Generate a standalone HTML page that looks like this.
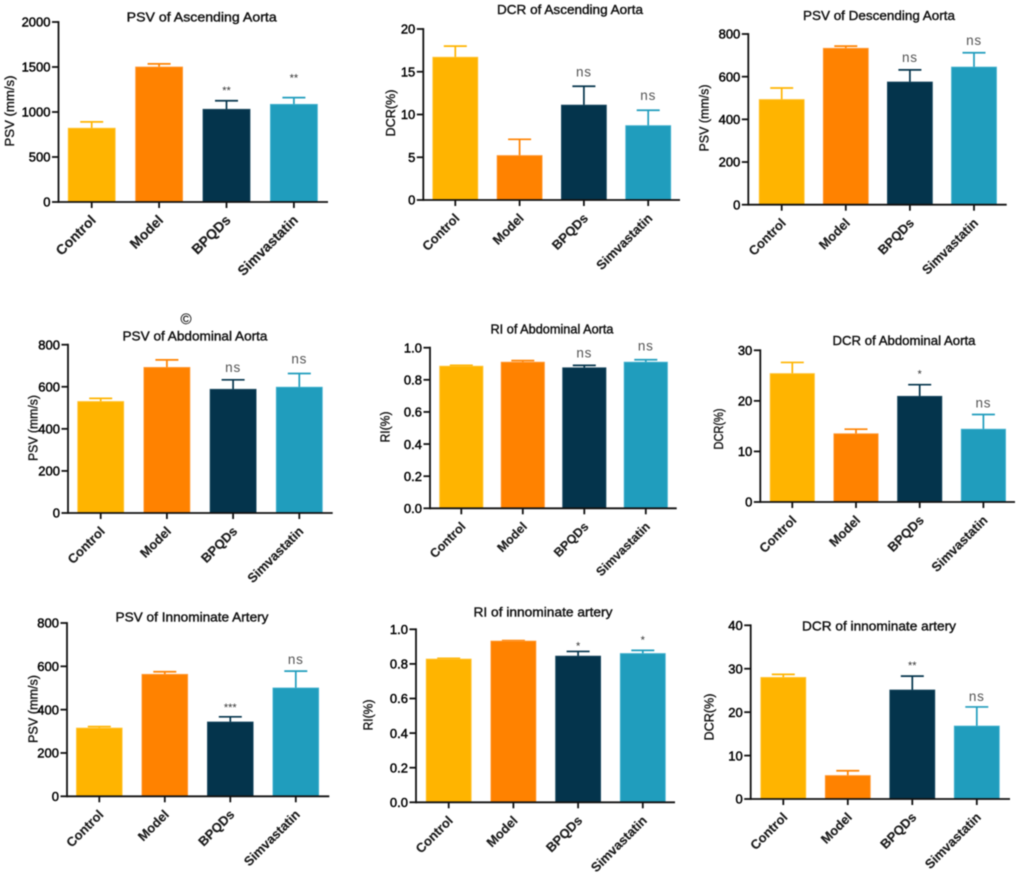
<!DOCTYPE html>
<html lang="en">
<head>
<meta charset="utf-8">
<title>Aortic flow measurements by treatment group</title>
<style>
  html, body { margin: 0; padding: 0; background: #fff; }
  #figure { display: block; width: 1020px; height: 875px; filter: blur(0.4px); font-family: "Liberation Sans", sans-serif; }
</style>
</head>
<body>
<svg id="figure" xmlns="http://www.w3.org/2000/svg" width="1020" height="875" viewBox="0 0 1020 875">
  <rect x="0" y="0" width="1020" height="875" fill="#ffffff"></rect>
  <text x="186" y="324" font-size="15" text-anchor="middle" fill="#111" stroke="#111" stroke-width="0.2">©</text>
</svg>
<script>
// Shared categories
const categories = ["Control", "Model", "BPQDs", "Simvastatin"];

// Tick labels
const ticksPsvAsc = ["0", "500", "1000", "1500", "2000"];
const ticksDcrAsc = ["0", "5", "10", "15", "20"];
const ticksPsv800 = ["0", "200", "400", "600", "800"];
const ticksRi = ["0.0", "0.2", "0.4", "0.6", "0.8", "1.0"];
const ticksDcrAbd = ["0", "10", "20", "30"];
const ticksDcrInn = ["0", "10", "20", "30", "40"];

// Series: bar means, upper error lengths, significance notes
const psvAscMeans = [820, 1500, 1030, 1085];
const psvAscErrors = [70, 35, 95, 75];
const psvAscNotes = ["", "", "**", "**"];

const dcrAscMeans = [16.7, 5.2, 11.1, 8.7];
const dcrAscErrors = [1.3, 1.9, 2.2, 1.8];
const dcrAscNotes = ["", "", "ns", "ns"];

const psvDescMeans = [493, 733, 575, 645];
const psvDescErrors = [54, 10, 57, 67];
const psvDescNotes = ["", "", "ns", "ns"];

const psvAbdMeans = [530, 692, 588, 598];
const psvAbdErrors = [15, 36, 45, 65];
const psvAbdNotes = ["", "", "ns", "ns"];

const riAbdMeans = [0.885, 0.91, 0.875, 0.91];
const riAbdErrors = [0.005, 0.01, 0.015, 0.015];
const riAbdNotes = ["", "", "ns", "ns"];

const dcrAbdMeans = [25.4, 13.5, 20.9, 14.4];
const dcrAbdErrors = [2.2, 0.9, 2.3, 2.9];
const dcrAbdNotes = ["", "", "*", "ns"];

const psvInnMeans = [315, 563, 343, 500];
const psvInnErrors = [7, 12, 24, 78];
const psvInnNotes = ["", "", "***", "ns"];

const riInnMeans = [0.828, 0.932, 0.845, 0.86];
const riInnErrors = [0.004, 0.003, 0.027, 0.018];
const riInnNotes = ["", "", "*", "*"];

const dcrInnMeans = [28, 5.4, 25.1, 16.8];
const dcrInnErrors = [0.7, 1.1, 3.2, 4.4];
const dcrInnNotes = ["", "", "**", "ns"];

// Bar fills per category
const barFills = ["#FFB400", "#FF8200", "#04344C", "#209DBD"];
const barEdges = ["#FFC53A", "#FF9B3A", "#1E4C63", "#46B3D0"];

const panels = [
  { key: "psv-ascending", title: "PSV of Ascending Aorta", yTitle: "PSV (mm/s)", ticks: ticksPsvAsc, means: psvAscMeans, errors: psvAscErrors, notes: psvAscNotes,
    box: { x: 58.5, top: 22, base: 202, right: 328, first: 91.7, step: 67.4, barW: 47, catSize: 14, titleX: 201.7, titleY: 21.5, titleW: 150, yTitleX: 14, yTitleY: 111, yTitleW: 71, gaps: [0, 0, 7, 16] } },
  { key: "dcr-ascending", title: "DCR of Ascending Aorta", yTitle: "DCR(%)", ticks: ticksDcrAsc, means: dcrAscMeans, errors: dcrAscErrors, notes: dcrAscNotes,
    box: { x: 423.3, top: 29, base: 200, right: 680, first: 455.3, step: 64.3, barW: 45, catSize: 13, titleX: 570, titleY: 14, titleW: 146, yTitleX: 395, yTitleY: 113, yTitleW: 47, gaps: [0, 0, 10, 10] } },
  { key: "psv-descending", title: "PSV of Descending Aorta", yTitle: "PSV (mm/s)", ticks: ticksPsv800, means: psvDescMeans, errors: psvDescErrors, notes: psvDescNotes,
    box: { x: 748.3, top: 34, base: 204.7, right: 1006.7, first: 781.7, step: 64.1, barW: 45, catSize: 13, titleX: 879, titleY: 20, titleW: 152, yTitleX: 708.5, yTitleY: 118, yTitleW: 67, gaps: [0, 0, 8, 8] } },
  { key: "psv-abdominal", title: "PSV of Abdominal Aorta", yTitle: "PSV (mm/s)", ticks: ticksPsv800, means: psvAbdMeans, errors: psvAbdErrors, notes: psvAbdNotes,
    box: { x: 68, top: 344.7, base: 513, right: 332.7, first: 100.7, step: 66.2, barW: 46, catSize: 13, titleX: 195, titleY: 340.5, titleW: 145, yTitleX: 37.5, yTitleY: 428, yTitleW: 66, gaps: [0, 0, 8, 10] } },
  { key: "ri-abdominal", title: "RI of Abdominal Aorta", yTitle: "RI(%)", ticks: ticksRi, means: riAbdMeans, errors: riAbdErrors, notes: riAbdNotes,
    box: { x: 430, top: 347.7, base: 508.3, right: 676.7, first: 461.3, step: 61.5, barW: 43.3, catSize: 12.5, titleX: 552, titleY: 333.5, titleW: 123, yTitleX: 389.5, yTitleY: 427, yTitleW: 31, gaps: [0, 0, 8, 9] } },
  { key: "dcr-abdominal", title: "DCR of Abdominal Aorta", yTitle: "DCR(%)", ticks: ticksDcrAbd, means: dcrAbdMeans, errors: dcrAbdErrors, notes: dcrAbdNotes,
    box: { x: 760.3, top: 350.3, base: 502, right: 1015, first: 792.3, step: 63.7, barW: 44.3, catSize: 13, titleX: 904, titleY: 345, titleW: 143, yTitleX: 723, yTitleY: 429, yTitleW: 41, gaps: [0, 0, 7, 7] } },
  { key: "psv-innominate", title: "PSV of Innominate Artery", yTitle: "PSV (mm/s)", ticks: ticksPsv800, means: psvInnMeans, errors: psvInnErrors, notes: psvInnNotes,
    box: { x: 67, top: 623, base: 796.3, right: 329.3, first: 99.3, step: 65.5, barW: 45.7, catSize: 13, titleX: 192, titleY: 621.5, titleW: 153, yTitleX: 37.5, yTitleY: 709, yTitleW: 68, gaps: [0, 0, 6, 7] } },
  { key: "ri-innominate", title: "RI of innominate artery", yTitle: "RI(%)", ticks: ticksRi, means: riInnMeans, errors: riInnErrors, notes: riInnNotes,
    box: { x: 416, top: 629.3, base: 802.3, right: 675, first: 448.7, step: 64.7, barW: 45, catSize: 13, titleX: 543, titleY: 616.5, titleW: 139, yTitleX: 372.5, yTitleY: 715, yTitleW: 31, gaps: [0, 0, 2, 7] } },
  { key: "dcr-innominate", title: "DCR of innominate artery", yTitle: "DCR(%)", ticks: ticksDcrInn, means: dcrInnMeans, errors: dcrInnErrors, notes: dcrInnNotes,
    box: { x: 750.7, top: 625.3, base: 799, right: 1010, first: 783.3, step: 64.5, barW: 45, catSize: 13, titleX: 879, titleY: 630.5, titleW: 154, yTitleX: 713.5, yTitleY: 717, yTitleW: 47, gaps: [0, 0, 7, 6] } }
];

const SVG_NS = "http://www.w3.org/2000/svg";
const figure = document.getElementById("figure");
const INK = "#111111";

function make(parent, tag, attrs, content) {
  const node = document.createElementNS(SVG_NS, tag);
  for (const k in attrs) node.setAttribute(k, attrs[k]);
  if (content !== undefined) node.textContent = content;
  parent.appendChild(node);
  return node;
}

function yScale(box, tickValues) {
  const lo = tickValues[0];
  const hi = tickValues[tickValues.length - 1];
  return v => box.base - (v - lo) / (hi - lo) * (box.base - box.top);
}

function xScale(box) {
  return i => box.first + i * box.step;
}

function drawPanel(p) {
  const b = p.box;
  const tickValues = p.ticks.map(Number);
  const y = yScale(b, tickValues);
  const x = xScale(b);

  const g = make(figure, "g", {});
  
  

  const title = make(g, "text", { x: b.titleX, y: b.titleY, "text-anchor": "middle", "font-size": 13, fill: "#111111", stroke: "#111111", "stroke-width": 0.4, textLength: b.titleW, lengthAdjust: "spacingAndGlyphs" }, p.title);
  
  

  const yTitle = make(g, "text", { transform: "translate(" + b.yTitleX + " " + b.yTitleY + ") rotate(-90)", "text-anchor": "middle", "font-size": 13, fill: "#111111", stroke: "#111111", "stroke-width": 0.35, textLength: b.yTitleW, lengthAdjust: "spacingAndGlyphs" }, p.yTitle);
  
  

  p.means.forEach((mean, i) => {
    const cx = x(i);
    const top = y(mean);
    const errTop = y(mean + p.errors[i]);

    const stem = make(g, "line", { x1: cx, x2: cx, y1: top, y2: errTop, stroke: barFills[i], "stroke-width": 1.7 });
    
    

    const cap = make(g, "line", { x1: cx - 11.5, x2: cx + 11.5, y1: errTop, y2: errTop, stroke: barFills[i], "stroke-width": 1.7 });
    
    

    const bar = make(g, "rect", { x: cx - b.barW / 2, y: top, width: b.barW, height: b.base - top, fill: barFills[i], stroke: barEdges[i], "stroke-width": 0.8 });
    
    

    if (p.notes[i]) {
      const isNs = p.notes[i] === "ns";
      const note = make(g, "text", { x: cx, y: errTop - b.gaps[i], "text-anchor": "middle", "font-size": isNs ? 13.5 : 11, "letter-spacing": isNs ? 0.8 : 0, fill: isNs ? "#555555" : "#333333" }, p.notes[i]);
      
      
    }

    const tick = make(g, "line", { x1: cx, x2: cx, y1: b.base, y2: b.base + 6, stroke: INK, "stroke-width": 1.8 });
    
    

    const ex = cx + 5;
    const ey = b.base + 19;
    const cat = make(g, "text", { transform: "translate(" + ex + " " + ey + ") rotate(-45)", "text-anchor": "end", "font-size": b.catSize, "font-weight": "bold", fill: "#1a1a1a", stroke: "#1a1a1a", "stroke-width": 0.15 }, categories[i]);
    
    
  });

  const yAxis = make(g, "line", { x1: b.x, x2: b.x, y1: b.top - 0.9, y2: b.base + 0.9, stroke: INK, "stroke-width": 1.8 });
  
  

  const xAxis = make(g, "line", { x1: b.x, x2: b.right, y1: b.base, y2: b.base, stroke: INK, "stroke-width": 1.8 });
  
  

  p.ticks.forEach((label, i) => {
    const ty = y(tickValues[i]);
    const tick = make(g, "line", { x1: b.x - 6.5, x2: b.x, y1: ty, y2: ty, stroke: INK, "stroke-width": 1.8 });
    
    

    const text = make(g, "text", { x: b.x - 8, y: ty + 4.7, "text-anchor": "end", "font-size": 13, fill: "#000000", stroke: "#000000", "stroke-width": 0.45 }, label);
    
    
  });
}

panels.forEach(drawPanel);
</script>
</body>
</html>
